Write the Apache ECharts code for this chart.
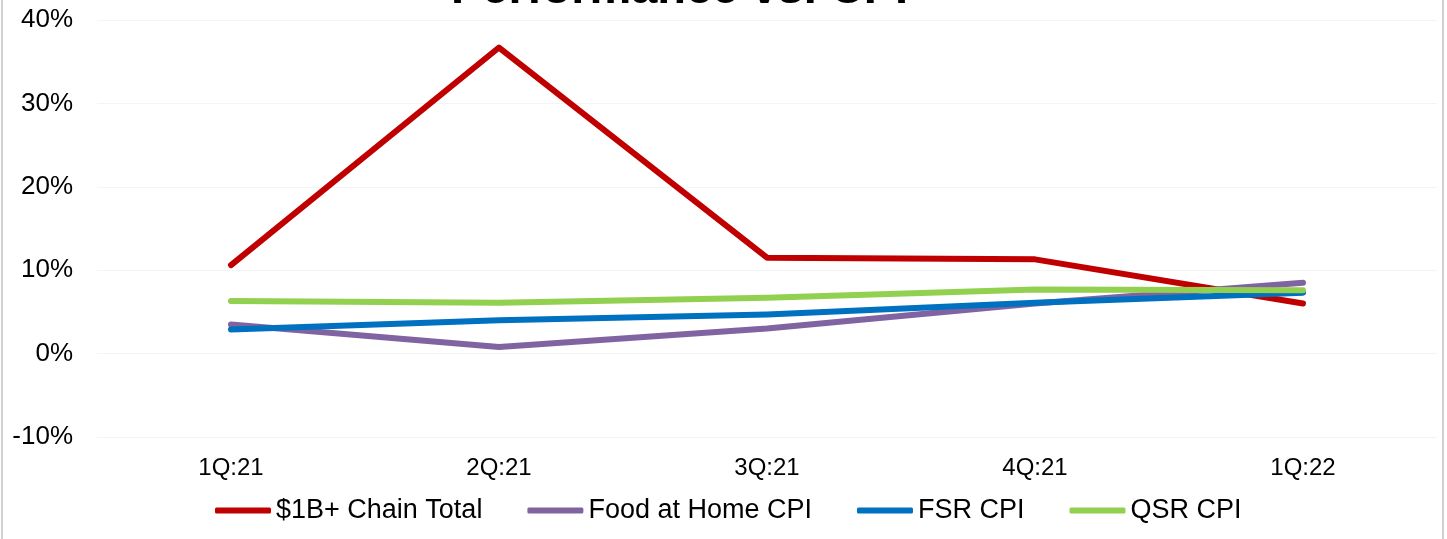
<!DOCTYPE html>
<html>
<head>
<meta charset="utf-8">
<script src="https://cdn.jsdelivr.net/npm/echarts@6/dist/echarts.min.js"></script>
<style>
html,body{margin:0;padding:0;background:#fff;}
#c{width:1447px;height:539px;}
</style>
</head>
<body>
<div id="c"></div>
<script>
const categories = ['1Q:21', '2Q:21', '3Q:21', '4Q:21', '1Q:22'];
const chainTotal = [10.6, 36.7, 11.5, 11.3, 6.0];
const foodAtHome = [3.5, 0.8, 3.0, 6.0, 8.5];
const fsrCpi = [2.9, 4.0, 4.7, 6.1, 7.3];
const qsrCpi = [6.3, 6.1, 6.7, 7.7, 7.6];
const seriesNames = ['$1B+ Chain Total', 'Food at Home CPI', 'FSR CPI', 'QSR CPI'];
const seriesColors = ['#C00000', '#8064A2', '#0070C0', '#92D050'];
const seriesData = [chainTotal, foodAtHome, fsrCpi, qsrCpi];

const chart = echarts.init(document.getElementById('c'));
const font = 'Liberation Sans, Arial, sans-serif';
chart.setOption({
  animation: false,
  backgroundColor: '#fff',
  title: {
    text: 'Performance vs. CPI',
    left: 446,
    top: -38,
    textStyle: {fontFamily: font, fontSize: 47, fontWeight: 'bold', color: '#000'}
  },
  grid: {left: 97, right: 10, top: 20, bottom: 102},
  legend: {
    left: 215,
    top: 497,
    padding: 0,
    itemWidth: 56,
    itemHeight: 6,
    itemGap: 45,
    icon: 'roundRect',
    textStyle: {fontFamily: font, fontSize: 27, color: '#000'},
    data: seriesNames
  },
  xAxis: {
    type: 'category',
    data: categories,
    boundaryGap: true,
    axisLine: {show: false},
    axisTick: {show: false},
    axisLabel: {fontFamily: font, fontSize: 24, color: '#000', margin: 19}
  },
  yAxis: {
    type: 'value',
    min: -10, max: 40, interval: 10,
    axisLine: {show: false},
    axisTick: {show: false},
    axisLabel: {fontFamily: font, fontSize: 26, color: '#000', margin: 24, formatter: '{value}%'},
    splitLine: {lineStyle: {color: '#f4f4f4', width: 1}}
  },
  series: seriesNames.map((n, i) => ({
    name: n,
    type: 'line',
    data: seriesData[i],
    showSymbol: false,
    symbol: 'none',
    itemStyle: {color: seriesColors[i]},
    lineStyle: {color: seriesColors[i], width: 6, cap: 'round', join: 'round'}
  })),
  graphic: [
    {type: 'line', shape: {x1: 2, y1: 0, x2: 2, y2: 539}, style: {stroke: '#d0d0d0', lineWidth: 2}},
    {type: 'line', shape: {x1: 1443, y1: 0, x2: 1443, y2: 539}, style: {stroke: '#d0d0d0', lineWidth: 2}}
  ]
});
</script>
</body>
</html>
